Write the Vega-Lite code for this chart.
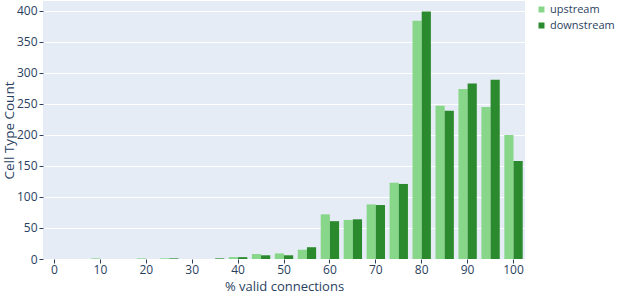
{
  "$schema": "https://vega.github.io/schema/vega-lite/v6.json",
  "width": 482,
  "height": 258,
  "autosize": {"type": "none"},
  "padding": {"left": 43, "top": 1, "right": 92, "bottom": 35},
  "background": "white",
  "config": {
    "view": {"fill": "#e5ecf6", "stroke": null},
    "font": "Open Sans",
    "axis": {"labelColor": "#2a3f5f", "titleColor": "#2a3f5f", "labelFontSize": 12, "titleFontSize": 14, "titleFontWeight": "normal", "domain": false},
    "legend": {"padding": 0}
  },
  "data": {"values": [
    {"bin": 0, "series": "upstream", "count": 0}, {"bin": 0, "series": "downstream", "count": 0},
    {"bin": 5, "series": "upstream", "count": 0}, {"bin": 5, "series": "downstream", "count": 0},
    {"bin": 10, "series": "upstream", "count": 1}, {"bin": 10, "series": "downstream", "count": 0},
    {"bin": 15, "series": "upstream", "count": 0}, {"bin": 15, "series": "downstream", "count": 0},
    {"bin": 20, "series": "upstream", "count": 1}, {"bin": 20, "series": "downstream", "count": 0},
    {"bin": 25, "series": "upstream", "count": 1}, {"bin": 25, "series": "downstream", "count": 1},
    {"bin": 30, "series": "upstream", "count": 0}, {"bin": 30, "series": "downstream", "count": 0},
    {"bin": 35, "series": "upstream", "count": 0}, {"bin": 35, "series": "downstream", "count": 1},
    {"bin": 40, "series": "upstream", "count": 3}, {"bin": 40, "series": "downstream", "count": 3},
    {"bin": 45, "series": "upstream", "count": 8}, {"bin": 45, "series": "downstream", "count": 6},
    {"bin": 50, "series": "upstream", "count": 9}, {"bin": 50, "series": "downstream", "count": 6},
    {"bin": 55, "series": "upstream", "count": 15}, {"bin": 55, "series": "downstream", "count": 19},
    {"bin": 60, "series": "upstream", "count": 72}, {"bin": 60, "series": "downstream", "count": 61},
    {"bin": 65, "series": "upstream", "count": 63}, {"bin": 65, "series": "downstream", "count": 64},
    {"bin": 70, "series": "upstream", "count": 88}, {"bin": 70, "series": "downstream", "count": 87},
    {"bin": 75, "series": "upstream", "count": 123}, {"bin": 75, "series": "downstream", "count": 121},
    {"bin": 80, "series": "upstream", "count": 384}, {"bin": 80, "series": "downstream", "count": 399},
    {"bin": 85, "series": "upstream", "count": 247}, {"bin": 85, "series": "downstream", "count": 239},
    {"bin": 90, "series": "upstream", "count": 274}, {"bin": 90, "series": "downstream", "count": 283},
    {"bin": 95, "series": "upstream", "count": 245}, {"bin": 95, "series": "downstream", "count": 289},
    {"bin": 100, "series": "upstream", "count": 200}, {"bin": 100, "series": "downstream", "count": 158}
  ]},
  "mark": {"type": "bar"},
  "encoding": {
    "x": {
      "field": "bin", "type": "ordinal", "sort": "ascending",
      "scale": {"paddingInner": 0.2, "paddingOuter": 0.1},
      "axis": {
        "values": [0, 10, 20, 30, 40, 50, 60, 70, 80, 90, 100],
        "labelAngle": 0, "title": "% valid connections",
        "titleY": 31, "titleBaseline": "alphabetic", "titleFontSize": 13,
        "tickColor": "#2a3f5f", "tickSize": 4, "labelPadding": 1, "grid": false
      }
    },
    "xOffset": {"field": "series", "type": "nominal", "sort": ["upstream", "downstream"]},
    "y": {
      "field": "count", "type": "quantitative",
      "scale": {"domain": [0, 416], "nice": false},
      "axis": {
        "values": [0, 50, 100, 150, 200, 250, 300, 350, 400],
        "title": "Cell Type Count", "gridColor": "white", "gridWidth": 1,
        "titleX": -34, "titleBaseline": "middle", "titleFontSize": 13.5,
        "tickColor": "#2a3f5f", "tickSize": 4, "labelPadding": 2
      }
    },
    "color": {
      "field": "series", "type": "nominal",
      "scale": {"domain": ["upstream", "downstream"], "range": ["#88d68a", "#2c8a2e"]},
      "legend": {
        "title": null, "orient": "none", "legendX": 493, "legendY": 3,
        "symbolType": "square", "symbolSize": 36, "labelFontSize": 11, "labelColor": "#2a3f5f",
        "rowPadding": 4, "labelOffset": 3, "labelLimit": 200
      }
    }
  }
}
